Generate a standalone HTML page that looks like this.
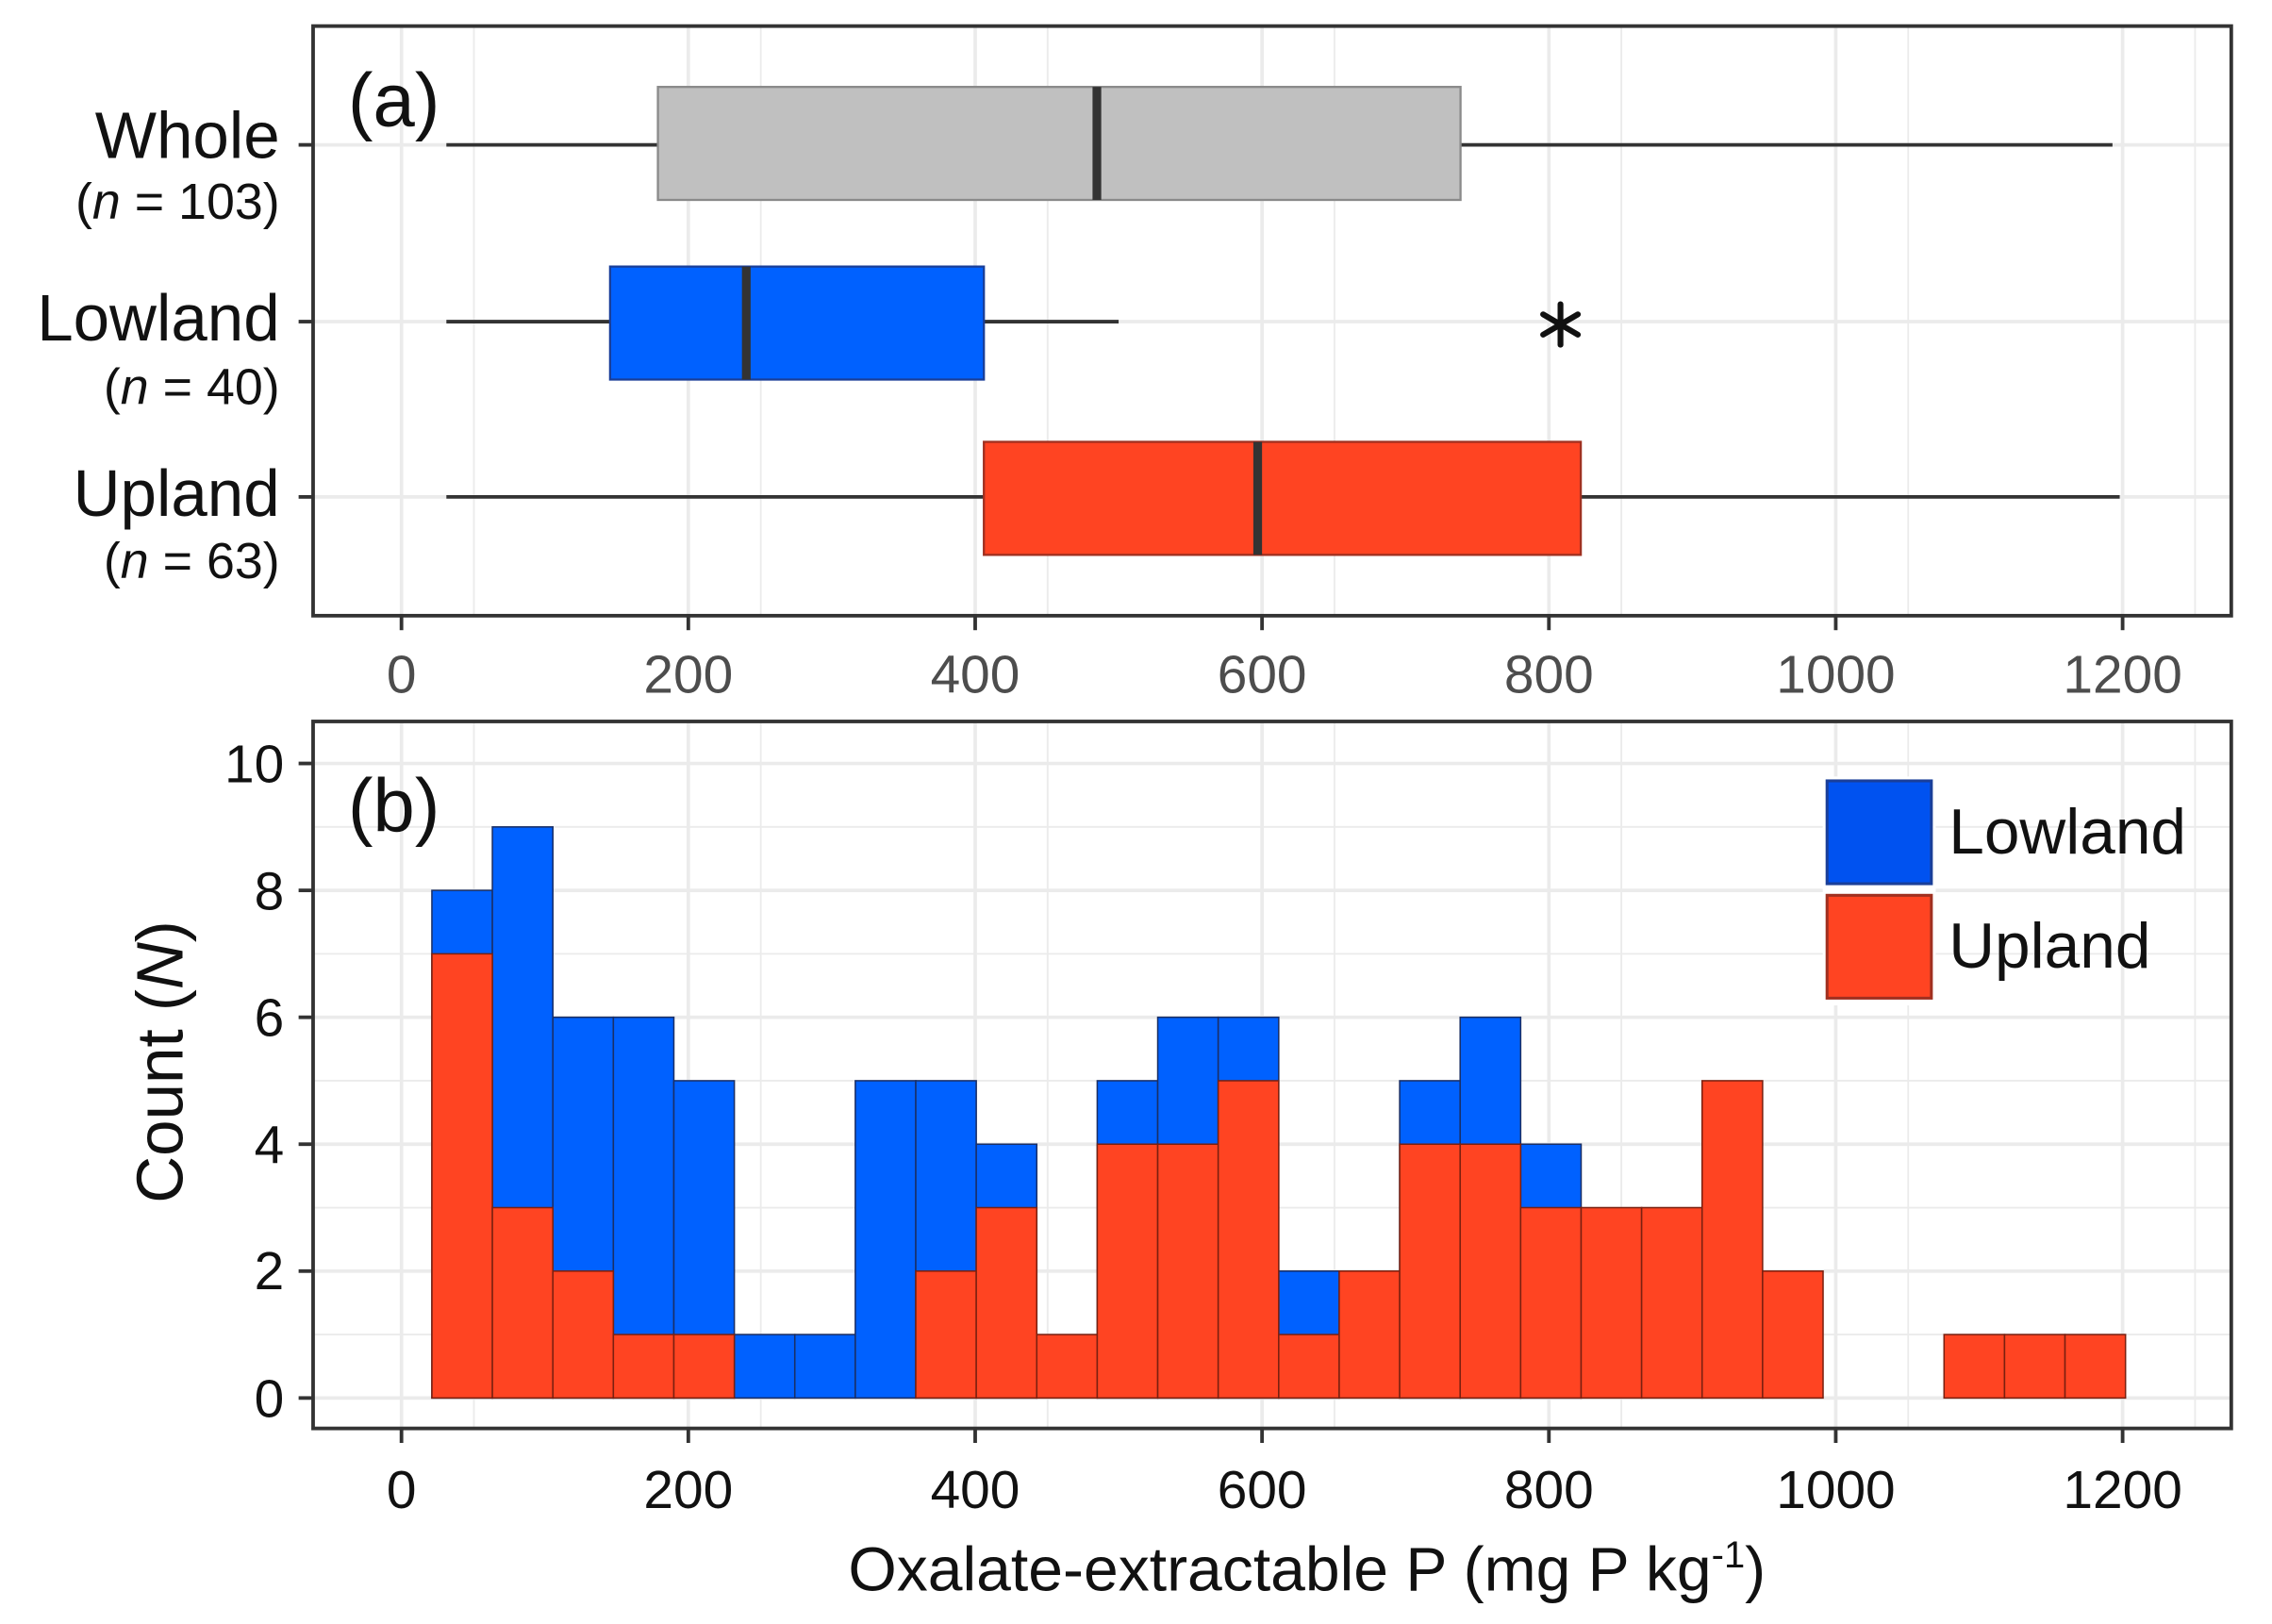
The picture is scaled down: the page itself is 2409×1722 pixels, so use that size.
<!DOCTYPE html>
<html><head><meta charset="utf-8"><style>html,body{margin:0;padding:0;background:#fff}svg{display:block}</style></head>
<body>
<svg width="2409" height="1722" viewBox="0 0 1568 1121" xmlns="http://www.w3.org/2000/svg" font-family="Liberation Sans, Arial, sans-serif">
<rect width="1568" height="1121" fill="#fff"/>
<!-- Panel a -->
<g stroke="#ebebeb">
<g stroke-width="1.2">
<line x1="327" y1="18" x2="327" y2="425"/><line x1="525" y1="18" x2="525" y2="425"/><line x1="723" y1="18" x2="723" y2="425"/><line x1="921" y1="18" x2="921" y2="425"/><line x1="1119" y1="18" x2="1119" y2="425"/><line x1="1317" y1="18" x2="1317" y2="425"/><line x1="1515" y1="18" x2="1515" y2="425"/>
</g>
<g stroke-width="2.4">
<line x1="277" y1="18" x2="277" y2="425"/><line x1="475" y1="18" x2="475" y2="425"/><line x1="673" y1="18" x2="673" y2="425"/><line x1="871" y1="18" x2="871" y2="425"/><line x1="1069" y1="18" x2="1069" y2="425"/><line x1="1267" y1="18" x2="1267" y2="425"/><line x1="1465" y1="18" x2="1465" y2="425"/>
<line x1="216" y1="100" x2="1540" y2="100"/><line x1="216" y1="222" x2="1540" y2="222"/><line x1="216" y1="343" x2="1540" y2="343"/>
</g>
</g>
<g stroke="#333" stroke-width="2.5">
<line x1="308" y1="100" x2="1458" y2="100"/>
<line x1="308" y1="222" x2="772" y2="222"/>
<line x1="308" y1="343" x2="1463" y2="343"/>
</g>
<rect x="454" y="60" width="554" height="78" fill="#c0c0c0" stroke="#8a8a8a" stroke-width="1.5"/>
<line x1="757" y1="60" x2="757" y2="138" stroke="#333" stroke-width="6"/>
<rect x="421" y="184" width="258" height="78" fill="#0061ff" stroke="#1a3f99" stroke-width="1.5"/>
<line x1="515" y1="184" x2="515" y2="262" stroke="#333" stroke-width="6"/>
<rect x="679" y="305" width="412" height="78" fill="#ff4422" stroke="#a03020" stroke-width="1.5"/>
<line x1="868" y1="305" x2="868" y2="383" stroke="#333" stroke-width="6"/>
<g stroke="#111" stroke-width="4" stroke-linecap="round">
<line x1="1077" y1="210" x2="1077" y2="238"/>
<line x1="1065" y1="217" x2="1089" y2="231"/>
<line x1="1065" y1="231" x2="1089" y2="217"/>
</g>
<rect x="216" y="18" width="1324" height="407" fill="none" stroke="#333" stroke-width="2.5"/>
<text x="240" y="87" font-size="52" fill="#111">(a)</text>
<g stroke="#333" stroke-width="2.5">
<line x1="206" y1="100" x2="216" y2="100"/><line x1="206" y1="222" x2="216" y2="222"/><line x1="206" y1="343" x2="216" y2="343"/>
</g>
<g font-size="45" fill="#111" text-anchor="end">
<text x="193" y="109">Whole</text><text x="193" y="235">Lowland</text><text x="193" y="356">Upland</text>
</g>
<g font-size="35" fill="#111" text-anchor="end">
<text x="193" y="151">(<tspan font-style="italic">n</tspan> = 103)</text>
<text x="193" y="279">(<tspan font-style="italic">n</tspan> = 40)</text>
<text x="193" y="399">(<tspan font-style="italic">n</tspan> = 63)</text>
</g>
<g stroke="#333" stroke-width="2.5">
<line x1="277" y1="425" x2="277" y2="435"/><line x1="475" y1="425" x2="475" y2="435"/><line x1="673" y1="425" x2="673" y2="435"/><line x1="871" y1="425" x2="871" y2="435"/><line x1="1069" y1="425" x2="1069" y2="435"/><line x1="1267" y1="425" x2="1267" y2="435"/><line x1="1465" y1="425" x2="1465" y2="435"/>
</g>
<g font-size="37" fill="#4d4d4d" text-anchor="middle">
<text x="277" y="478">0</text><text x="475" y="478">200</text><text x="673" y="478">400</text><text x="871" y="478">600</text><text x="1069" y="478">800</text><text x="1267" y="478">1000</text><text x="1465" y="478">1200</text>
</g>
<!-- Panel b -->
<g stroke="#ebebeb">
<g stroke-width="1.2">
<line x1="327" y1="498" x2="327" y2="986"/><line x1="525" y1="498" x2="525" y2="986"/><line x1="723" y1="498" x2="723" y2="986"/><line x1="921" y1="498" x2="921" y2="986"/><line x1="1119" y1="498" x2="1119" y2="986"/><line x1="1317" y1="498" x2="1317" y2="986"/><line x1="1515" y1="498" x2="1515" y2="986"/>
<line x1="216" y1="921.2" x2="1540" y2="921.2"/><line x1="216" y1="833.6" x2="1540" y2="833.6"/><line x1="216" y1="746" x2="1540" y2="746"/><line x1="216" y1="658.4" x2="1540" y2="658.4"/><line x1="216" y1="570.8" x2="1540" y2="570.8"/>
</g>
<g stroke-width="2.4">
<line x1="277" y1="498" x2="277" y2="986"/><line x1="475" y1="498" x2="475" y2="986"/><line x1="673" y1="498" x2="673" y2="986"/><line x1="871" y1="498" x2="871" y2="986"/><line x1="1069" y1="498" x2="1069" y2="986"/><line x1="1267" y1="498" x2="1267" y2="986"/><line x1="1465" y1="498" x2="1465" y2="986"/>
<line x1="216" y1="965" x2="1540" y2="965"/><line x1="216" y1="877.4" x2="1540" y2="877.4"/><line x1="216" y1="789.8" x2="1540" y2="789.8"/><line x1="216" y1="702.2" x2="1540" y2="702.2"/><line x1="216" y1="614.6" x2="1540" y2="614.6"/><line x1="216" y1="527" x2="1540" y2="527"/>
</g>
</g>
<g fill="#0061ff" stroke="#1a2f66" stroke-width="1">
<rect x="298" y="614.6" width="41.75" height="350.4"/>
<rect x="339.75" y="570.8" width="41.75" height="394.2"/>
<rect x="381.5" y="702.2" width="41.75" height="262.8"/>
<rect x="423.25" y="702.2" width="41.75" height="262.8"/>
<rect x="465" y="746" width="41.75" height="219"/>
<rect x="506.75" y="921.2" width="41.75" height="43.8"/>
<rect x="548.5" y="921.2" width="41.75" height="43.8"/>
<rect x="590.25" y="746" width="41.75" height="219"/>
<rect x="632" y="746" width="41.75" height="219"/>
<rect x="673.75" y="789.8" width="41.75" height="175.2"/>
<rect x="757.25" y="746" width="41.75" height="219"/>
<rect x="799" y="702.2" width="41.75" height="262.8"/>
<rect x="840.75" y="702.2" width="41.75" height="262.8"/>
<rect x="882.5" y="877.4" width="41.75" height="87.6"/>
<rect x="966" y="746" width="41.75" height="219"/>
<rect x="1007.75" y="702.2" width="41.75" height="262.8"/>
<rect x="1049.5" y="789.8" width="41.75" height="175.2"/>
</g>
<g fill="#ff4422" stroke="#7a2010" stroke-width="1">
<rect x="298" y="658.4" width="41.75" height="306.6"/>
<rect x="339.75" y="833.6" width="41.75" height="131.4"/>
<rect x="381.5" y="877.4" width="41.75" height="87.6"/>
<rect x="423.25" y="921.2" width="41.75" height="43.8"/>
<rect x="465" y="921.2" width="41.75" height="43.8"/>
<rect x="632" y="877.4" width="41.75" height="87.6"/>
<rect x="673.75" y="833.6" width="41.75" height="131.4"/>
<rect x="715.5" y="921.2" width="41.75" height="43.8"/>
<rect x="757.25" y="789.8" width="41.75" height="175.2"/>
<rect x="799" y="789.8" width="41.75" height="175.2"/>
<rect x="840.75" y="746" width="41.75" height="219"/>
<rect x="882.5" y="921.2" width="41.75" height="43.8"/>
<rect x="924.25" y="877.4" width="41.75" height="87.6"/>
<rect x="966" y="789.8" width="41.75" height="175.2"/>
<rect x="1007.75" y="789.8" width="41.75" height="175.2"/>
<rect x="1049.5" y="833.6" width="41.75" height="131.4"/>
<rect x="1091.25" y="833.6" width="41.75" height="131.4"/>
<rect x="1133" y="833.6" width="41.75" height="131.4"/>
<rect x="1174.75" y="746" width="41.75" height="219"/>
<rect x="1216.5" y="877.4" width="41.75" height="87.6"/>
<rect x="1341.75" y="921.2" width="41.75" height="43.8"/>
<rect x="1383.5" y="921.2" width="41.75" height="43.8"/>
<rect x="1425.25" y="921.2" width="41.75" height="43.8"/>
</g>
<rect x="216" y="498" width="1324" height="488" fill="none" stroke="#333" stroke-width="2.5"/>
<text x="240" y="574" font-size="52" fill="#111">(b)</text>
<rect x="1258" y="536" width="78" height="158" fill="#fff"/>
<rect x="1261" y="539" width="72" height="71" fill="#0052f0" stroke="#1a3f99" stroke-width="2"/>
<rect x="1261" y="618" width="72" height="71" fill="#ff4422" stroke="#a03020" stroke-width="2"/>
<text x="1345" y="589" font-size="44" fill="#111">Lowland</text>
<text x="1345" y="668" font-size="44" fill="#111">Upland</text>
<g stroke="#333" stroke-width="2.5">
<line x1="206" y1="965" x2="216" y2="965"/><line x1="206" y1="877.4" x2="216" y2="877.4"/><line x1="206" y1="789.8" x2="216" y2="789.8"/><line x1="206" y1="702.2" x2="216" y2="702.2"/><line x1="206" y1="614.6" x2="216" y2="614.6"/><line x1="206" y1="527" x2="216" y2="527"/>
<line x1="277" y1="986" x2="277" y2="996"/><line x1="475" y1="986" x2="475" y2="996"/><line x1="673" y1="986" x2="673" y2="996"/><line x1="871" y1="986" x2="871" y2="996"/><line x1="1069" y1="986" x2="1069" y2="996"/><line x1="1267" y1="986" x2="1267" y2="996"/><line x1="1465" y1="986" x2="1465" y2="996"/>
</g>
<g font-size="37" fill="#111" text-anchor="end">
<text x="196" y="978">0</text><text x="196" y="890">2</text><text x="196" y="803">4</text><text x="196" y="715">6</text><text x="196" y="628">8</text><text x="196" y="540">10</text>
</g>
<g font-size="37" fill="#111" text-anchor="middle">
<text x="277" y="1041">0</text><text x="475" y="1041">200</text><text x="673" y="1041">400</text><text x="871" y="1041">600</text><text x="1069" y="1041">800</text><text x="1267" y="1041">1000</text><text x="1465" y="1041">1200</text>
</g>
<text x="902" y="1098" font-size="43" fill="#111" text-anchor="middle">Oxalate-extractable P (mg P kg<tspan font-size="26" dy="-16">-1</tspan><tspan dy="16">)</tspan></text>
<text transform="translate(126,733) rotate(-90)" font-size="45" fill="#111" text-anchor="middle">Count (<tspan font-style="italic">N</tspan>)</text>
</svg>
</body></html>
